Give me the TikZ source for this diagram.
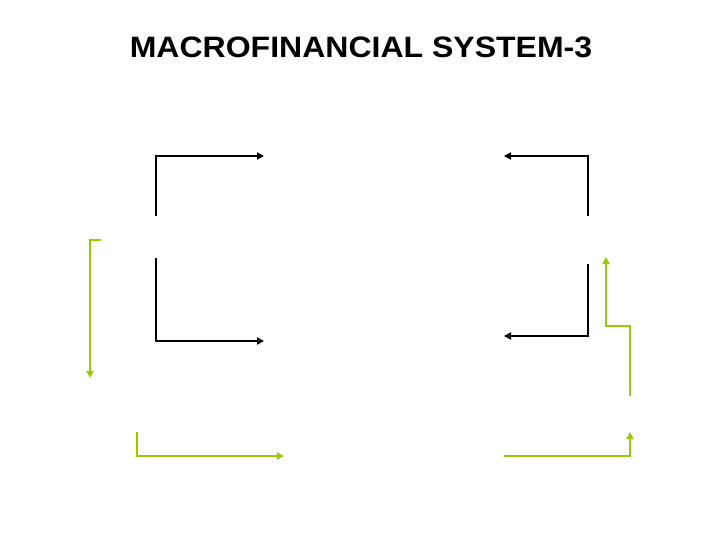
\documentclass[tikz,border=0pt]{standalone}
\usepackage{fontspec}
\setmainfont{Liberation Sans}
\usetikzlibrary{arrows.meta}
\definecolor{lime}{RGB}{153,204,0}
\begin{document}
\begin{tikzpicture}[x=1pt,y=-1pt,
  blk/.style={draw=black,line width=2pt,-{Triangle[length=7pt,width=7pt]}},
  grn/.style={draw=lime,line width=2.5pt,-{Triangle[length=7pt,width=7pt]}}]
\useasboundingbox (0,0) rectangle (720,540);
\node[font=\bfseries\fontsize{29.5}{34}\selectfont,xscale=1.085] (title) at (361,47) {MACROFINANCIAL SYSTEM-3};
% black brackets
\coordinate (a1) at (156,216); \coordinate (a2) at (264,156);
\draw[blk] (a1) |- (a2);
\coordinate (b1) at (156,258); \coordinate (b2) at (264,341);
\draw[blk] (b1) |- (b2);
\coordinate (c1) at (588,216); \coordinate (c2) at (504,156);
\draw[blk] (c1) |- (c2);
\coordinate (d1) at (588,264); \coordinate (d2) at (504,336);
\draw[blk] (d1) |- (d2);
% green
\coordinate (e1) at (101,240); \coordinate (e2) at (90,378);
\draw[grn] (e1) -| (e2);
\coordinate (f1) at (137,432); \coordinate (f2) at (284,456);
\draw[grn] (f1) |- (f2);
\coordinate (g1) at (504,456); \coordinate (g2) at (630,432);
\draw[grn] (g1) -| (g2);
\coordinate (h1) at (630,396); \coordinate (h2) at (630,326); \coordinate (h3) at (606,257);
\draw[grn] (h1) -- (h2) -| (h3);
\end{tikzpicture}
\end{document}
